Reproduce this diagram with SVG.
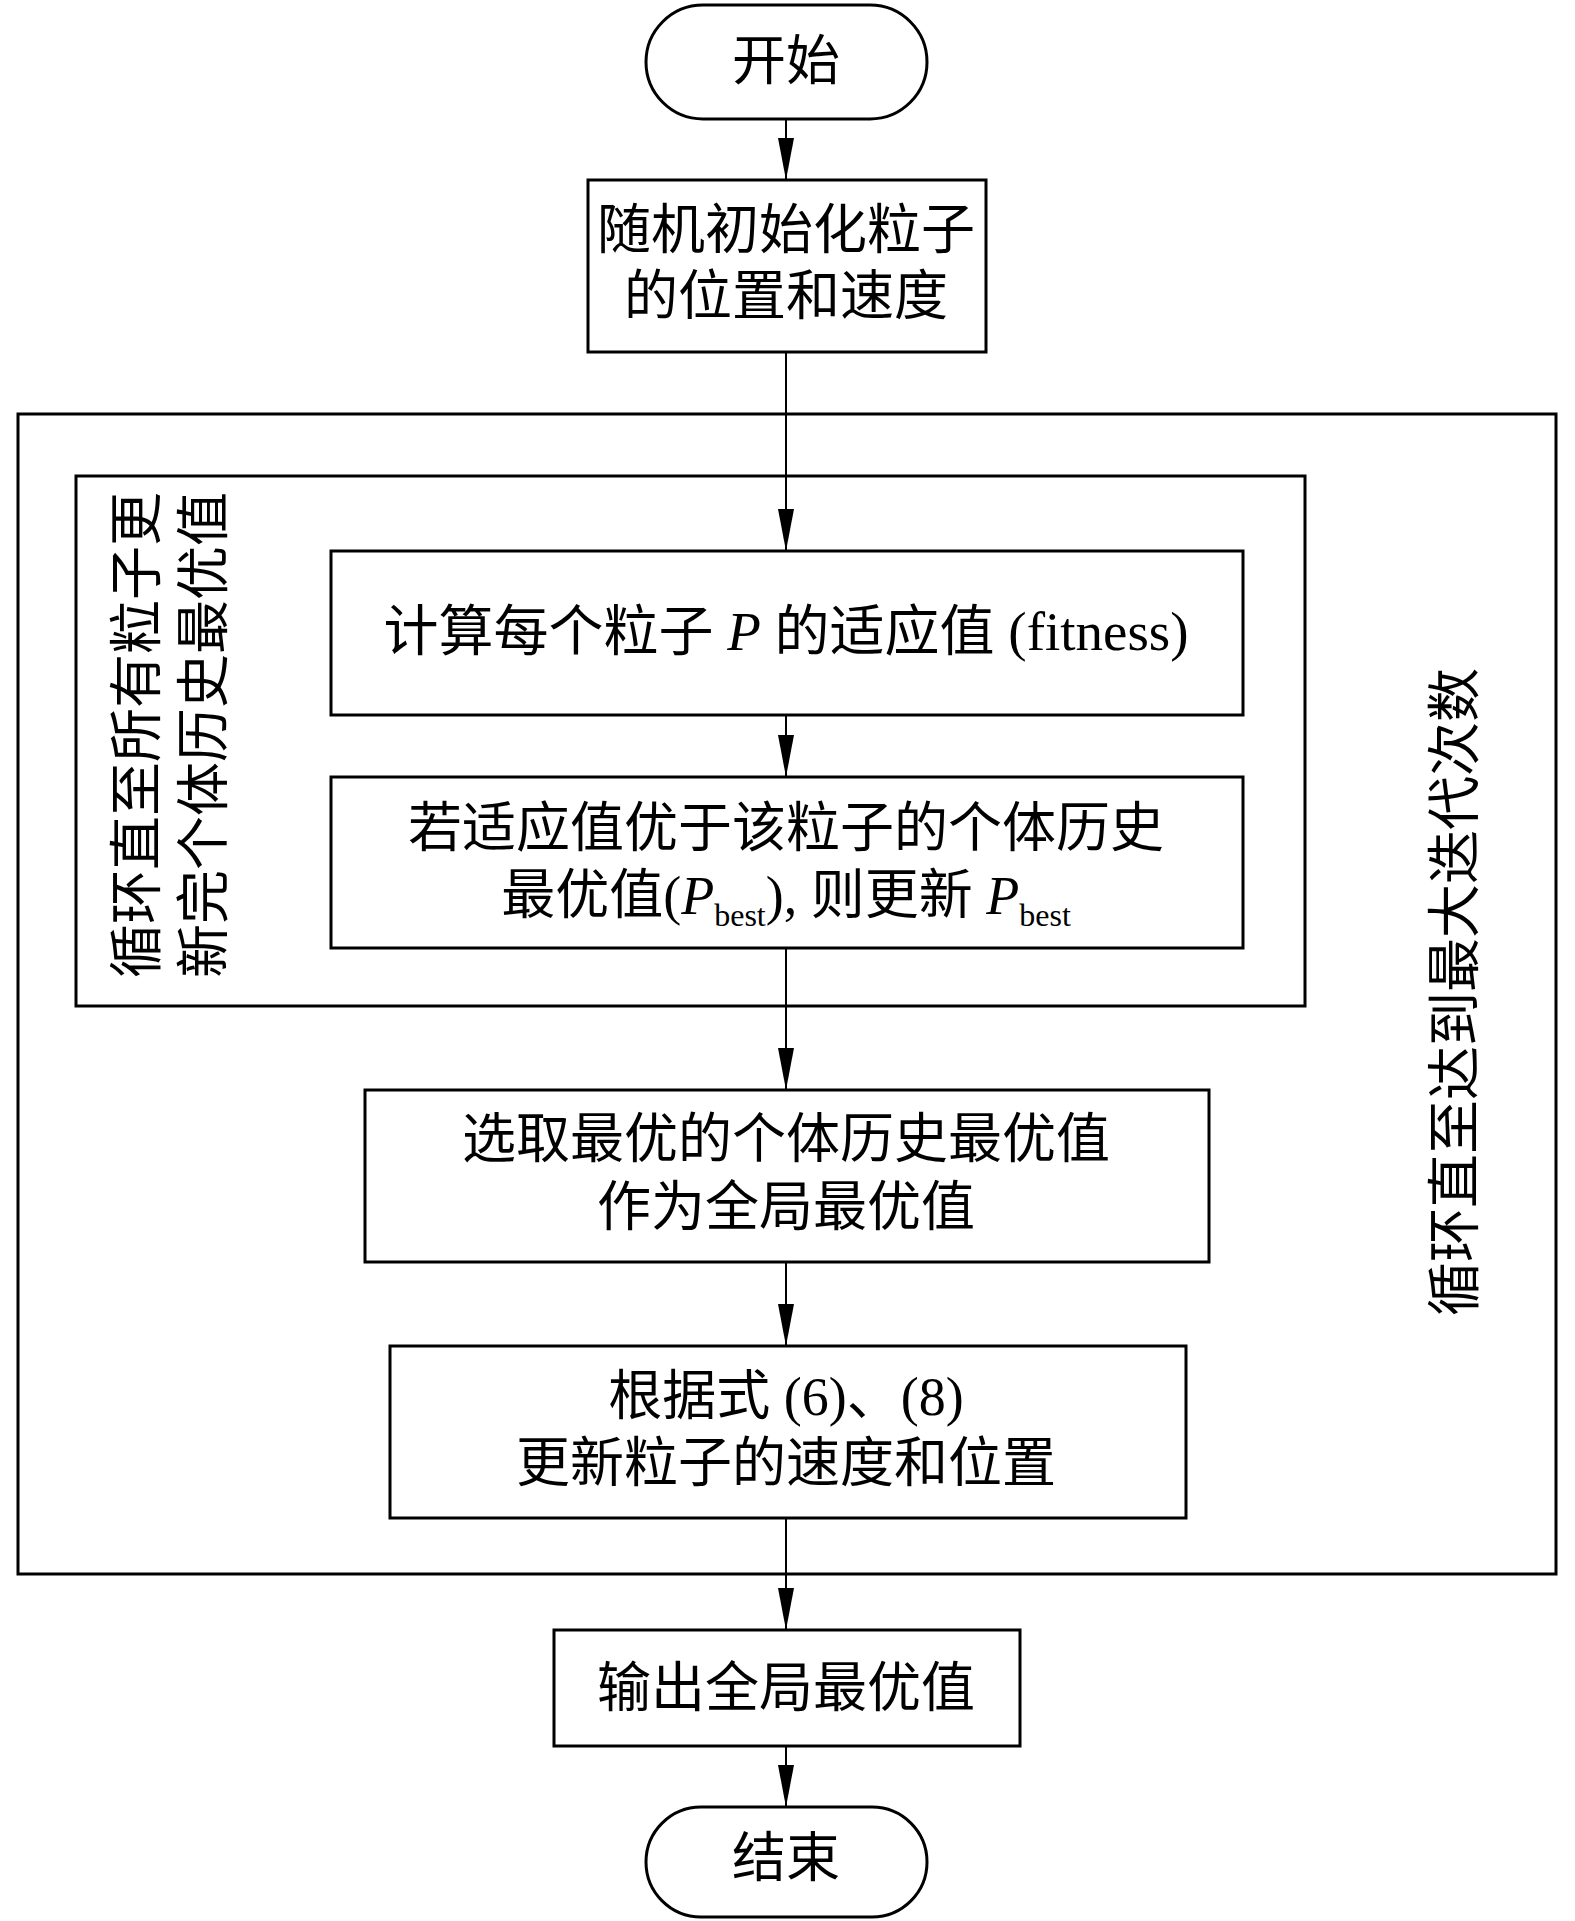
<svg xmlns="http://www.w3.org/2000/svg" width="1575" height="1921" viewBox="0 0 1575 1921">
<defs>
<style>
.box{fill:#fff;stroke:#000;stroke-width:3}
.frame{fill:none;stroke:#000;stroke-width:3}
.conn{stroke:#000;stroke-width:2;fill:none}
text{font-family:"Liberation Serif","Noto Sans CJK SC",serif;font-size:54px;fill:#000}
.c{text-anchor:middle}
.i{font-style:italic}
.sub{font-size:32px}
</style>
<marker id="ah" viewBox="0 0 42 16" markerWidth="42" markerHeight="16" refX="42" refY="8" orient="auto" markerUnits="userSpaceOnUse">
<path d="M0,0 L42,8 L0,16 z" fill="#000"/>
</marker>
</defs>
<rect width="1575" height="1921" fill="#fff"/>
<g id="outer-loop">
<rect class="frame" x="18" y="414" width="1538" height="1160"/>
<text class="c" transform="translate(1455,992) rotate(-90)" dy="0.35em">循环直至达到最大迭代次数</text>
</g>
<g id="inner-loop">
<rect class="frame" x="76" y="476" width="1229" height="530"/>
<text class="c" transform="translate(137,735) rotate(-90)" dy="0.35em">循环直至所有粒子更</text>
<text class="c" transform="translate(204,735) rotate(-90)" dy="0.35em">新完个体历史最优值</text>
</g>
<g id="connectors">
<line class="conn" x1="786" y1="119" x2="786" y2="180" marker-end="url(#ah)"/>
<line class="conn" x1="786" y1="352" x2="786" y2="551" marker-end="url(#ah)"/>
<line class="conn" x1="786" y1="715" x2="786" y2="777" marker-end="url(#ah)"/>
<line class="conn" x1="786" y1="948" x2="786" y2="1090" marker-end="url(#ah)"/>
<line class="conn" x1="786" y1="1262" x2="786" y2="1346" marker-end="url(#ah)"/>
<line class="conn" x1="786" y1="1518" x2="786" y2="1630" marker-end="url(#ah)"/>
<line class="conn" x1="786" y1="1746" x2="786" y2="1807" marker-end="url(#ah)"/>
</g>
<g id="start">
<rect class="box" x="646" y="5" width="281" height="114" rx="57" ry="57"/>
<text class="c" x="786" y="80">开始</text>
</g>
<g id="init">
<rect class="box" x="588" y="180" width="398" height="172"/>
<text class="c" x="786" y="249">随机初始化粒子</text>
<text class="c" x="786" y="315">的位置和速度</text>
</g>
<g id="fitness">
<rect class="box" x="331" y="551" width="912" height="164"/>
<text class="c" x="786" y="650" style="font-size:55px">计算每个粒子 <tspan class="i">P</tspan> 的适应值 (fitness)</text>
</g>
<g id="pbest">
<rect class="box" x="331" y="777" width="912" height="171"/>
<text class="c" x="786" y="847">若适应值优于该粒子的个体历史</text>
<text class="c" x="786" y="914">最优值(<tspan class="i">P</tspan><tspan class="sub" dy="12">best</tspan><tspan dy="-12">), 则更新 </tspan><tspan class="i">P</tspan><tspan class="sub" dy="12">best</tspan></text>
</g>
<g id="gbest">
<rect class="box" x="365" y="1090" width="844" height="172"/>
<text class="c" x="786" y="1158">选取最优的个体历史最优值</text>
<text class="c" x="786" y="1226">作为全局最优值</text>
</g>
<g id="update">
<rect class="box" x="390" y="1346" width="796" height="172"/>
<text class="c" x="786" y="1415">根据式 (6)、(8)</text>
<text class="c" x="786" y="1482">更新粒子的速度和位置</text>
</g>
<g id="output">
<rect class="box" x="554" y="1630" width="466" height="116"/>
<text class="c" x="786" y="1707">输出全局最优值</text>
</g>
<g id="end">
<rect class="box" x="646" y="1807" width="281" height="110" rx="55" ry="55"/>
<text class="c" x="786" y="1877">结束</text>
</g>
</svg>
